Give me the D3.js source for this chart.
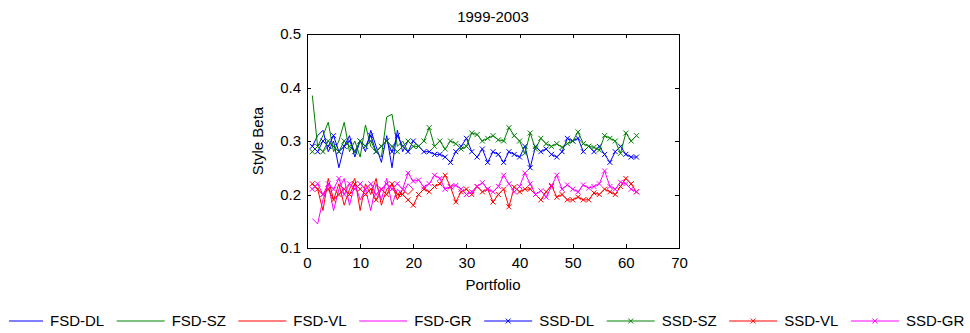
<!DOCTYPE html>
<html>
<head>
<meta charset="utf-8">
<script src="https://cdn.jsdelivr.net/npm/d3@7"></script>
<style>
	body { margin: 0; background: #fff; }
	svg { display: block; font-family: "Liberation Sans", Arial, sans-serif; }
	.axis path, .axis line { stroke: #000; stroke-width: 1; shape-rendering: crispEdges; }
	.axis text { font-size: 15px; fill: #000; font-family: "Liberation Sans", Arial, sans-serif; }
</style>
</head>
<body>
<div id="chart"></div>
<script>
// Data
var title = '1999-2003';
var xTicks = [0, 10, 20, 30, 40, 50, 60, 70];
var yTicks = [0.1, 0.2, 0.3, 0.4, 0.5];

var fsdDL = [0.29, 0.31, 0.32, 0.28, 0.30, 0.25, 0.29, 0.31, 0.27, 0.30, 0.28, 0.32, 0.29, 0.26, 0.31, 0.25, 0.32, 0.28, 0.30, 0.29];
var fsdSZ = [0.385, 0.29, 0.31, 0.335, 0.28, 0.30, 0.335, 0.28, 0.30, 0.27, 0.33, 0.29, 0.28, 0.27, 0.345, 0.35, 0.29, 0.30, 0.28, 0.29];
var fsdVL = [0.22, 0.21, 0.17, 0.23, 0.19, 0.22, 0.18, 0.21, 0.23, 0.17, 0.22, 0.20, 0.23, 0.18, 0.21, 0.22, 0.19, 0.21, 0.20, 0.21];
var fsdGR = [0.155, 0.145, 0.19, 0.22, 0.17, 0.21, 0.23, 0.18, 0.22, 0.19, 0.21, 0.17, 0.22, 0.19, 0.23, 0.18, 0.21, 0.20, 0.22, 0.21];

var ssdDL = [0.29, 0.28, 0.30, 0.29, 0.31, 0.28, 0.29, 0.30, 0.28, 0.30,
	0.29, 0.31, 0.28, 0.29, 0.30, 0.28, 0.31, 0.29, 0.28, 0.30,
	0.29, 0.28, 0.28, 0.275, 0.275, 0.27, 0.26, 0.28, 0.29, 0.305,
	0.28, 0.27, 0.285, 0.26, 0.28, 0.275, 0.26, 0.28, 0.275, 0.27,
	0.29, 0.25, 0.29, 0.28, 0.285, 0.275, 0.27, 0.28, 0.305, 0.30,
	0.305, 0.28, 0.29, 0.28, 0.29, 0.275, 0.26, 0.28, 0.29, 0.275, 0.27, 0.27];
var ssdSZ = [0.28, 0.29, 0.28, 0.30, 0.29, 0.28, 0.30, 0.29, 0.28, 0.30,
	0.29, 0.30, 0.28, 0.29, 0.30, 0.29, 0.28, 0.29, 0.30, 0.29,
	0.29, 0.30, 0.325, 0.29, 0.30, 0.285, 0.30, 0.295, 0.285, 0.29,
	0.315, 0.312, 0.30, 0.305, 0.31, 0.302, 0.30, 0.325, 0.31, 0.30,
	0.277, 0.315, 0.285, 0.305, 0.295, 0.29, 0.295, 0.288, 0.295, 0.30,
	0.317, 0.295, 0.29, 0.288, 0.283, 0.31, 0.305, 0.30, 0.277, 0.315, 0.30, 0.31];
var ssdVL = [0.22, 0.21, 0.20, 0.21, 0.19, 0.20, 0.21, 0.20, 0.22, 0.21,
	0.20, 0.21, 0.19, 0.21, 0.20, 0.22, 0.20, 0.20, 0.19, 0.18,
	0.20, 0.21, 0.205, 0.215, 0.22, 0.236, 0.214, 0.186, 0.205, 0.21,
	0.20, 0.215, 0.205, 0.21, 0.186, 0.20, 0.21, 0.177, 0.214, 0.205,
	0.21, 0.21, 0.20, 0.19, 0.205, 0.217, 0.195, 0.20, 0.19, 0.19,
	0.195, 0.19, 0.19, 0.203, 0.20, 0.21, 0.205, 0.20, 0.215, 0.23, 0.22, 0.205];
var ssdGR = [0.21, 0.22, 0.20, 0.22, 0.21, 0.23, 0.20, 0.22, 0.21, 0.22,
	0.21, 0.22, 0.20, 0.21, 0.22, 0.21, 0.22, 0.21, 0.24, 0.225,
	0.227, 0.214, 0.22, 0.236, 0.23, 0.21, 0.215, 0.217, 0.21, 0.20,
	0.205, 0.215, 0.222, 0.21, 0.205, 0.215, 0.236, 0.22, 0.205, 0.215,
	0.24, 0.22, 0.20, 0.207, 0.195, 0.215, 0.236, 0.21, 0.218, 0.21,
	0.205, 0.218, 0.212, 0.215, 0.22, 0.244, 0.215, 0.21, 0.223, 0.22, 0.21, 0.205];

var seriesNames = ['FSD-DL', 'FSD-SZ', 'FSD-VL', 'FSD-GR', 'SSD-DL', 'SSD-SZ', 'SSD-VL', 'SSD-GR'];
var seriesValues = [fsdDL, fsdSZ, fsdVL, fsdGR, ssdDL, ssdSZ, ssdVL, ssdGR];
var seriesColors = ['#0000ff', '#008000', '#ff0000', '#ff00ff', '#0000ff', '#008000', '#ff0000', '#ff00ff'];
var seriesMarkers = [false, false, false, false, true, true, true, true];

var width = 970;
var height = 333;
var margins = { top: 34, right: 291, bottom: 85, left: 307 };
var chartWidth = width - margins.left - margins.right;
var chartHeight = height - margins.top - margins.bottom;

var svg = d3.select('#chart')
	.append('svg')
	.attr('width', width)
	.attr('height', height);

var chartElement = svg.append('g')
	.attr('transform', 'translate(' + margins.left + ',' + margins.top + ')');

var xScale = d3.scaleLinear().domain([0, 70]).range([0, chartWidth]);
var yScale = d3.scaleLinear().domain([0.1, 0.5]).range([chartHeight, 0]);

/*
 * Axes (MATLAB style box, ticks pointing in)
 */
chartElement.append('g')
	.attr('class', 'x axis')
	.attr('transform', 'translate(0,' + chartHeight + ')')
	.call(d3.axisBottom(xScale).tickValues(xTicks).tickSizeInner(-4).tickSizeOuter(0).tickPadding(9));

chartElement.append('g')
	.attr('class', 'x axis')
	.call(d3.axisTop(xScale).tickValues(xTicks).tickSizeInner(-4).tickSizeOuter(0).tickFormat(''));

chartElement.append('g')
	.attr('class', 'y axis')
	.call(d3.axisLeft(yScale).tickValues(yTicks).tickSizeInner(-4).tickSizeOuter(0).tickPadding(6)
		.tickFormat(d3.format('.1f')));

chartElement.append('g')
	.attr('class', 'y axis')
	.attr('transform', 'translate(' + chartWidth + ',0)')
	.call(d3.axisRight(yScale).tickValues(yTicks).tickSizeInner(-4).tickSizeOuter(0).tickFormat(''));

/*
 * Lines and markers
 */
var line = d3.line()
	.x(function(d, i) { return xScale(i + 1); })
	.y(function(d) { return yScale(d); });

var markerPath = function(x, y) {
	var s = 2.5;
	return 'M' + (x - s) + ',' + (y - s) + 'L' + (x + s) + ',' + (y + s) +
		'M' + (x - s) + ',' + (y + s) + 'L' + (x + s) + ',' + (y - s);
};

seriesValues.forEach(function(values, k) {
	var g = chartElement.append('g').attr('class', 'series');
	g.append('path')
		.attr('d', line(values))
		.attr('fill', 'none')
		.attr('stroke', seriesColors[k])
		.attr('stroke-width', 1);

	if (seriesMarkers[k]) {
		g.selectAll('path.marker')
			.data(values)
			.enter()
			.append('path')
			.attr('class', 'marker')
			.attr('d', function(d, i) { return markerPath(xScale(i + 1), yScale(d)); })
			.attr('stroke', seriesColors[k])
			.attr('stroke-width', 1)
			.attr('fill', 'none');
	}
});

/*
 * Labels
 */
svg.append('text')
	.attr('x', margins.left + chartWidth / 2)
	.attr('y', 22)
	.attr('text-anchor', 'middle')
	.style('font-size', '15px')
	.text(title);

svg.append('text')
	.attr('x', margins.left + chartWidth / 2)
	.attr('y', 290)
	.attr('text-anchor', 'middle')
	.style('font-size', '15px')
	.text('Portfolio');

svg.append('text')
	.attr('transform', 'translate(263,' + (margins.top + chartHeight / 2) + ') rotate(-90)')
	.attr('text-anchor', 'middle')
	.style('font-size', '15px')
	.text('Style Beta');

/*
 * Legend along the bottom
 */
var legend = svg.append('g').attr('class', 'legend');
var legendY = 321;
var cursor = -5;

seriesNames.forEach(function(name, k) {
	var x0 = Math.max(cursor, 9);
	var x1 = cursor + 48;
	legend.append('line')
		.attr('x1', x0)
		.attr('x2', x1)
		.attr('y1', legendY)
		.attr('y2', legendY)
		.attr('stroke', seriesColors[k])
		.attr('stroke-width', 1);

	if (seriesMarkers[k]) {
		legend.append('path')
			.attr('d', markerPath((cursor + x1) / 2, legendY))
			.attr('stroke', seriesColors[k])
			.attr('fill', 'none');
	}

	var label = legend.append('text')
		.attr('x', x1 + 7)
		.attr('y', legendY)
		.attr('dy', '0.36em')
		.style('font-size', '15px')
		.text(name);

	cursor = x1 + 7 + label.node().getComputedTextLength() + 12.5;
});
</script>
</body>
</html>
